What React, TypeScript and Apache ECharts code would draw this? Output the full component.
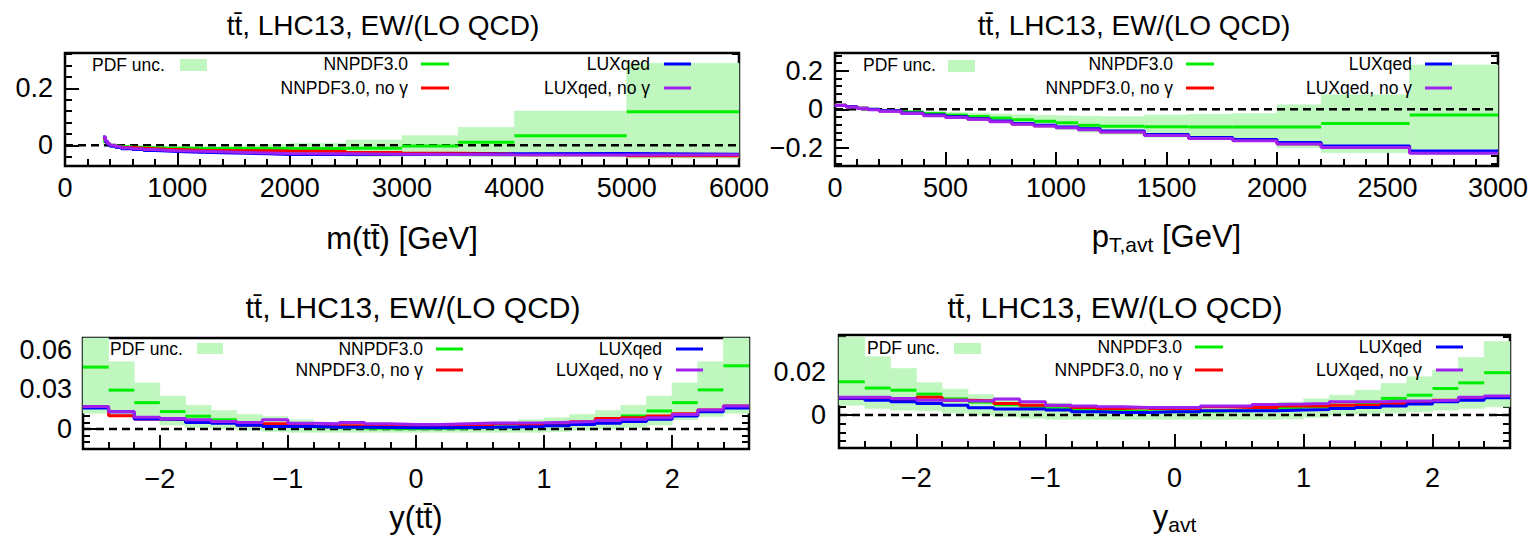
import React, { useEffect, useRef } from "react";
import * as echarts from "echarts";

const FONT = '"Liberation Sans", Arial, Helvetica, sans-serif';
const BAND = "#bff7bf";
const GREEN = "#00ee00";
const RED = "#ff0000";
const BLUE = "#0000ff";
const PURPLE = "#a020f0";

// ---------- m(tt) ----------
const mEdges = [340, 360, 380, 400, 450, 500, 600, 700, 800, 900, 1000, 1200, 1400, 1600, 1800, 2000, 2500, 3000, 3500, 4000, 5000, 6000];
const mGreen = [0.015, 0.008, 0.003, 0.0, -0.003, -0.005, -0.007, -0.008, -0.009, -0.01, -0.01, -0.011, -0.011, -0.011, -0.011, -0.011, -0.01, -0.002, 0.0105, 0.034, 0.118];
const mRed = [0.025, 0.012, 0.004, -0.001, -0.005, -0.008, -0.01, -0.012, -0.014, -0.015, -0.017, -0.018, -0.019, -0.019, -0.02, -0.022, -0.025, -0.028, -0.03, -0.033, -0.037];
const mBlue = [0.028, 0.012, 0.003, -0.003, -0.008, -0.012, -0.015, -0.018, -0.02, -0.022, -0.024, -0.026, -0.028, -0.03, -0.032, -0.032, -0.032, -0.031, -0.03, -0.029, -0.031];
const mPurple = [0.03, 0.015, 0.006, 0.0, -0.005, -0.009, -0.012, -0.015, -0.017, -0.019, -0.021, -0.023, -0.025, -0.027, -0.029, -0.03, -0.031, -0.032, -0.033, -0.034, -0.033];
const mUpper = [0.035, 0.02, 0.01, 0.005, 0.002, 0.0, -0.002, -0.003, -0.004, -0.005, -0.005, -0.005, -0.003, 0.0, 0.003, 0.007, 0.019, 0.034, 0.063, 0.12, 0.288];
const mLower = [0.0, -0.004, -0.004, -0.005, -0.008, -0.01, -0.012, -0.013, -0.014, -0.015, -0.016, -0.017, -0.019, -0.022, -0.025, -0.029, -0.039, -0.038, -0.04, -0.04, -0.045];

// ---------- pT,avt ----------
const pEdges = [0, 50, 100, 150, 200, 300, 400, 500, 600, 700, 800, 900, 1000, 1100, 1200, 1400, 1600, 1800, 2000, 2200, 2600, 3000];
const pGreen = [0.02, 0.012, 0.005, 0.0, -0.006, -0.014, -0.022, -0.03, -0.037, -0.045, -0.054, -0.062, -0.07, -0.083, -0.088, -0.091, -0.092, -0.092, -0.092, -0.074, -0.03];
const pRed = [0.021, 0.013, 0.005, -0.001, -0.009, -0.02, -0.031, -0.04, -0.05, -0.063, -0.076, -0.085, -0.094, -0.104, -0.116, -0.134, -0.15, -0.161, -0.178, -0.196, -0.224];
const pBlue = [0.021, 0.013, 0.006, 0.0, -0.007, -0.019, -0.03, -0.039, -0.049, -0.061, -0.074, -0.083, -0.092, -0.101, -0.112, -0.13, -0.146, -0.157, -0.172, -0.19, -0.216];
const pPurple = [0.02, 0.012, 0.004, -0.002, -0.01, -0.022, -0.033, -0.042, -0.052, -0.065, -0.078, -0.087, -0.096, -0.106, -0.118, -0.136, -0.152, -0.163, -0.18, -0.198, -0.228];
const pUpper = [0.025, 0.016, 0.008, 0.004, -0.001, -0.006, -0.011, -0.016, -0.02, -0.024, -0.028, -0.031, -0.034, -0.036, -0.038, -0.03, -0.026, -0.022, 0.023, 0.076, 0.23];
const pLower = [0.015, 0.008, 0.002, -0.004, -0.011, -0.022, -0.033, -0.044, -0.054, -0.066, -0.08, -0.093, -0.106, -0.118, -0.13, -0.145, -0.155, -0.16, -0.2, -0.225, -0.235];

// ---------- rapidity bins ----------
const yEdges = [-2.6, -2.4, -2.2, -2.0, -1.8, -1.6, -1.4, -1.2, -1.0, -0.8, -0.6, -0.4, -0.2, 0.0, 0.2, 0.4, 0.6, 0.8, 1.0, 1.2, 1.4, 1.6, 1.8, 2.0, 2.2, 2.4, 2.6];

// y(tt)
const ytGreen = [0.047, 0.0295, 0.02, 0.0132, 0.0097, 0.007, 0.0045, 0.003, 0.002, 0.0015, 0.001, 0.0005, 0.0003, 0.0003, 0.0005, 0.001, 0.0015, 0.002, 0.003, 0.0045, 0.0075, 0.0099, 0.0137, 0.02, 0.0297, 0.048];
const ytRed = [0.0165, 0.01, 0.0076, 0.0074, 0.0056, 0.0056, 0.003, 0.004, 0.0035, 0.0018, 0.0025, 0.0025, 0.002, 0.002, 0.0025, 0.0025, 0.004, 0.0032, 0.0035, 0.0055, 0.0079, 0.0085, 0.0099, 0.0115, 0.0145, 0.0175];
const ytBlue = [0.016, 0.013, 0.0076, 0.0074, 0.005, 0.0043, 0.0028, 0.0018, 0.0018, 0.0013, 0.0013, 0.0012, 0.001, 0.001, 0.0012, 0.0013, 0.0015, 0.0018, 0.0025, 0.0035, 0.0043, 0.0056, 0.0074, 0.0099, 0.013, 0.016];
const ytPurple = [0.017, 0.013, 0.009, 0.008, 0.007, 0.0056, 0.005, 0.007, 0.0043, 0.004, 0.005, 0.004, 0.0035, 0.0035, 0.004, 0.0045, 0.0045, 0.0048, 0.0052, 0.0056, 0.0064, 0.0074, 0.0086, 0.011, 0.0145, 0.0175];
const ytUpper = [0.075, 0.051, 0.035, 0.025, 0.018, 0.014, 0.011, 0.0094, 0.007, 0.005, 0.004, 0.0035, 0.003, 0.003, 0.0035, 0.004, 0.005, 0.007, 0.0085, 0.011, 0.014, 0.018, 0.025, 0.035, 0.051, 0.075];
const ytLower = [0.012, 0.0094, 0.007, 0.003, 0.001, 0.0, -0.001, -0.002, -0.0025, -0.0025, -0.0025, -0.0025, -0.0025, -0.0025, -0.0025, -0.0025, -0.0025, -0.0025, -0.002, -0.001, 0.0, 0.001, 0.003, 0.007, 0.0094, 0.012];

// y_avt
const yaGreen = [0.0154, 0.0125, 0.0115, 0.0097, 0.0075, 0.006, 0.0048, 0.0038, 0.003, 0.0025, 0.002, 0.0018, 0.0015, 0.0015, 0.0018, 0.002, 0.0025, 0.003, 0.0038, 0.0046, 0.0054, 0.0077, 0.0092, 0.0123, 0.0149, 0.0196];
const yaRed = [0.0077, 0.0074, 0.0069, 0.0082, 0.0069, 0.0066, 0.0054, 0.0046, 0.0043, 0.0035, 0.0031, 0.0034, 0.003, 0.003, 0.0038, 0.0035, 0.0035, 0.0042, 0.0042, 0.0046, 0.0046, 0.0054, 0.0062, 0.0069, 0.0077, 0.0085];
const yaBlue = [0.0078, 0.0069, 0.0062, 0.0054, 0.0046, 0.0034, 0.0028, 0.0028, 0.0023, 0.0015, 0.0012, 0.0012, 0.0015, 0.0015, 0.002, 0.002, 0.002, 0.0023, 0.0026, 0.0031, 0.0035, 0.0042, 0.0051, 0.0062, 0.0069, 0.008];
const yaPurple = [0.0082, 0.0082, 0.0077, 0.0069, 0.0069, 0.0065, 0.0074, 0.0062, 0.0046, 0.0042, 0.0038, 0.0035, 0.0035, 0.0035, 0.0042, 0.0042, 0.0049, 0.0051, 0.0054, 0.0062, 0.0062, 0.0065, 0.0066, 0.0069, 0.0082, 0.0088];
const yaUpper = [0.036, 0.027, 0.0215, 0.015, 0.012, 0.0095, 0.0078, 0.0065, 0.0055, 0.0045, 0.004, 0.0035, 0.0035, 0.0035, 0.0035, 0.004, 0.0045, 0.006, 0.0075, 0.0092, 0.0115, 0.0146, 0.0177, 0.0208, 0.0266, 0.034];
const yaLower = [0.0046, 0.003, 0.0023, 0.002, 0.001, 0.0, -0.0008, -0.0015, -0.002, -0.002, -0.002, -0.002, -0.002, -0.002, -0.002, -0.002, -0.002, -0.0018, -0.001, 0.0, 0.0005, 0.001, 0.0015, 0.0023, 0.003, 0.0038];

// tick labels
const mTicks = [0, 1000, 2000, 3000, 4000, 5000, 6000];
const pTicks = [0, 500, 1000, 1500, 2000, 2500, 3000];
const yTicksX = [-2, -1, 0, 1, 2];
const mYTicks = [0, 0.2];
const pYTicks = [-0.2, 0, 0.2];
const ytYTicks = [0, 0.03, 0.06];
const yaYTicks = [0, 0.02];

const TITLE = "tt\u0304, LHC13, EW/(LO QCD)";

function minorTicks(min: number, max: number, step: number, major: number[]) {
  const out: number[] = [];
  const n = Math.round((max - min) / step);
  for (let i = 0; i <= n; i++) {
    const v = +(min + i * step).toFixed(6);
    if (!major.some((m) => Math.abs(m - v) < step * 1e-3)) out.push(v);
  }
  return out;
}

function fmt(v: number) {
  if (Math.abs(v) < 1e-12) return "0";
  const s = String(+Math.abs(v).toFixed(6));
  return v < 0 ? "\u2212" + s : s;
}

const panels = [
  {
    grid: { left: 65, top: 53, width: 674, height: 113 },
    xMin: 0, xMax: 6000, xMajor: mTicks, xMinor: minorTicks(0, 6000, 200, mTicks),
    yMin: -0.0726, yMax: 0.324, yMajor: mYTicks, yMinor: minorTicks(-0.04, 0.32, 0.04, mYTicks),
    name: "m(tt\u0304) [GeV]", nameGap: 57, labelMargin: 8, yLabelMargin: 12,
    edges: mEdges, green: mGreen, red: mRed, blue: mBlue, purple: mPurple, upper: mUpper, lower: mLower,
    title: { x: 383, y: 25, size: 28 },
    legend: { pdfX: 92, pdfY: 65, rect: [180, 59, 27, 12], c1: 408, l1: [421, 449], c2: 650, l2: [664, 691], r1: 64, r2: 88 },
  },
  {
    grid: { left: 835, top: 53, width: 663, height: 113 },
    xMin: 0, xMax: 3000, xMajor: pTicks, xMinor: minorTicks(0, 3000, 100, pTicks),
    yMin: -0.294, yMax: 0.292, yMajor: pYTicks, yMinor: minorTicks(-0.28, 0.28, 0.04, pYTicks),
    name: "p{sub|T,avt} [GeV]", nameGap: 52, labelMargin: 8, yLabelMargin: 12,
    edges: pEdges, green: pGreen, red: pRed, blue: pBlue, purple: pPurple, upper: pUpper, lower: pLower,
    title: { x: 1134, y: 25, size: 28 },
    legend: { pdfX: 863, pdfY: 65, rect: [948, 60, 27, 12], c1: 1173, l1: [1186, 1214], c2: 1412, l2: [1425, 1452], r1: 64, r2: 88 },
  },
  {
    grid: { left: 83, top: 338, width: 666, height: 111 },
    xMin: -2.6, xMax: 2.6, xMajor: yTicksX, xMinor: minorTicks(-2.6, 2.6, 0.2, yTicksX),
    yMin: -0.0152, yMax: 0.0691, yMajor: ytYTicks, yMinor: minorTicks(-0.015, 0.065, 0.005, ytYTicks),
    name: "y(tt\u0304)", nameGap: 53, labelMargin: 16, yLabelMargin: 11,
    edges: yEdges, green: ytGreen, red: ytRed, blue: ytBlue, purple: ytPurple, upper: ytUpper, lower: ytLower,
    title: { x: 413, y: 307, size: 30 },
    legend: { pdfX: 110, pdfY: 349, rect: [197, 343, 26, 11], c1: 423, l1: [436, 463], c2: 662, l2: [676, 703], r1: 349, r2: 370 },
  },
  {
    grid: { left: 839, top: 335, width: 671, height: 113 },
    xMin: -2.6, xMax: 2.6, xMajor: yTicksX, xMinor: minorTicks(-2.6, 2.6, 0.2, yTicksX),
    yMin: -0.0152, yMax: 0.037, yMajor: yaYTicks, yMinor: minorTicks(-0.012, 0.036, 0.004, yaYTicks),
    name: "y{sub|avt}", nameGap: 50, labelMargin: 16, yLabelMargin: 13,
    edges: yEdges, green: yaGreen, red: yaRed, blue: yaBlue, purple: yaPurple, upper: yaUpper, lower: yaLower,
    title: { x: 1115, y: 307, size: 30 },
    legend: { pdfX: 867, pdfY: 348, rect: [954, 343, 27, 11], c1: 1182, l1: [1195, 1223], c2: 1422, l2: [1436, 1463], r1: 347, r2: 370 },
  },
];

function stepData(edges: number[], vals: number[]) {
  const d = vals.map((v, i) => [edges[i], v]);
  d.push([edges[edges.length - 1], vals[vals.length - 1]]);
  return d;
}

function buildOption() {
  const grid: any[] = [];
  const xAxis: any[] = [];
  const yAxis: any[] = [];
  const series: any[] = [];
  const graphic: any[] = [];
  const tickLine = { color: "#000", width: 2 };

  panels.forEach((p, i) => {
    grid.push({
      ...p.grid,
      show: true,
      borderColor: "#000",
      borderWidth: 2.5,
      backgroundColor: "transparent",
      containLabel: false,
      outerBoundsMode: "none",
    });
    const xi = xAxis.length;
    xAxis.push({
      gridIndex: i, type: "value", min: p.xMin, max: p.xMax, position: "bottom",
      axisLine: { show: false, onZero: false },
      splitLine: { show: false },
      axisTick: { show: true, inside: true, length: 14, customValues: p.xMajor, lineStyle: tickLine },
      axisLabel: { show: true, customValues: p.xMajor, formatter: fmt, fontSize: 27, color: "#000", fontFamily: FONT, margin: p.labelMargin },
      name: p.name, nameLocation: "middle", nameGap: p.nameGap,
      nameTextStyle: {
        fontSize: 31, color: "#000", fontFamily: FONT,
        rich: { sub: { fontSize: 21, fontFamily: FONT, color: "#000", padding: [16, 0, 0, 0] } },
      },
    });
    xAxis.push({
      gridIndex: i, type: "value", min: p.xMin, max: p.xMax, position: "bottom",
      axisLine: { show: false, onZero: false }, splitLine: { show: false },
      axisTick: { show: true, inside: true, length: 7, customValues: p.xMinor, lineStyle: tickLine },
      axisLabel: { show: false },
    });
    const yi = yAxis.length;
    const yBase = { gridIndex: i, type: "value", min: p.yMin, max: p.yMax, axisLine: { show: false, onZero: false }, splitLine: { show: false } };
    yAxis.push({
      ...yBase, position: "left",
      axisTick: { show: true, inside: true, length: 14, customValues: p.yMajor, lineStyle: tickLine },
      axisLabel: { show: true, customValues: p.yMajor, formatter: fmt, fontSize: 27, color: "#000", fontFamily: FONT, margin: p.yLabelMargin },
    });
    yAxis.push({
      ...yBase, position: "left",
      axisTick: { show: true, inside: true, length: 7, customValues: p.yMinor, lineStyle: tickLine },
      axisLabel: { show: false },
    });
    yAxis.push({
      ...yBase, position: "right",
      axisTick: { show: true, inside: true, length: 14, customValues: p.yMajor, lineStyle: tickLine },
      axisLabel: { show: false },
    });
    yAxis.push({
      ...yBase, position: "right",
      axisTick: { show: true, inside: true, length: 7, customValues: p.yMinor, lineStyle: tickLine },
      axisLabel: { show: false },
    });

    const bandData = p.lower.map((lo, k) => [p.edges[k], p.edges[k + 1], lo, p.upper[k]]);
    series.push({
      type: "custom", xAxisIndex: xi, yAxisIndex: yi, silent: true, z: 1,
      data: bandData,
      encode: { x: [0, 1], y: [2, 3] },
      renderItem: (params: any, api: any) => {
        const a = api.coord([api.value(0), api.value(3)]);
        const b = api.coord([api.value(1), api.value(2)]);
        const cs = params.coordSys;
        const shape = echarts.graphic.clipRectByRect(
          { x: a[0], y: a[1], width: b[0] - a[0], height: b[1] - a[1] },
          { x: cs.x, y: cs.y, width: cs.width, height: cs.height }
        );
        if (!shape) return null;
        return { type: "rect", shape, style: { fill: BAND, stroke: BAND, lineWidth: 0.6 } };
      },
    });
    series.push({
      type: "line", xAxisIndex: xi, yAxisIndex: yi, silent: true, z: 2,
      data: [[p.xMin, 0], [p.xMax, 0]], symbol: "none",
      lineStyle: { color: "#000", width: 2.5, type: [8, 5] },
    });
    // NNPDF3.0: separate horizontal bars per bin
    const greenData = p.green.map((v, k) => [p.edges[k], p.edges[k + 1], v]);
    series.push({
      type: "custom", xAxisIndex: xi, yAxisIndex: yi, silent: true, z: 3,
      data: greenData,
      encode: { x: [0, 1], y: 2 },
      renderItem: (params: any, api: any) => {
        const a = api.coord([api.value(0), api.value(2)]);
        const b = api.coord([api.value(1), api.value(2)]);
        return { type: "line", shape: { x1: a[0], y1: a[1], x2: b[0], y2: b[1] }, style: { stroke: GREEN, lineWidth: 3 } };
      },
    });
    const lines: [number[], string][] = [[p.red, RED], [p.blue, BLUE], [p.purple, PURPLE]];
    lines.forEach(([vals, color], k) => {
      series.push({
        type: "line", xAxisIndex: xi, yAxisIndex: yi, silent: true, z: 4 + k,
        step: "end", symbol: "none", clip: true,
        data: stepData(p.edges, vals),
        lineStyle: { color, width: 3 },
      });
    });

    // title
    graphic.push({
      type: "text", x: p.title.x, y: p.title.y,
      style: { text: TITLE, fontSize: p.title.size, fontFamily: FONT, fill: "#000", textAlign: "center", textVerticalAlign: "middle", align: "center", verticalAlign: "middle" },
    });
    // legend
    const L = p.legend;
    const ls = (text: string, x: number, y: number, align: string) => ({
      type: "text", x, y, z: 100,
      style: { text, fontSize: 17.5, fontFamily: FONT, fill: "#000", textAlign: align, textVerticalAlign: "middle", align, verticalAlign: "middle" },
    });
    graphic.push(ls("PDF unc.", L.pdfX, L.pdfY, "left"));
    graphic.push({ type: "rect", z: 100, shape: { x: L.rect[0], y: L.rect[1], width: L.rect[2], height: L.rect[3] }, style: { fill: BAND } });
    graphic.push(ls("NNPDF3.0", L.c1, L.r1, "right"));
    graphic.push(ls("NNPDF3.0, no \u03b3", L.c1, L.r2, "right"));
    graphic.push(ls("LUXqed", L.c2, L.r1, "right"));
    graphic.push(ls("LUXqed, no \u03b3", L.c2, L.r2, "right"));
    const seg = (x: number[], y: number, c: string) => ({ type: "line", z: 100, shape: { x1: x[0], y1: y, x2: x[1], y2: y }, style: { stroke: c, lineWidth: 3 } });
    graphic.push(seg(L.l1, L.r1, GREEN));
    graphic.push(seg(L.l1, L.r2, RED));
    graphic.push(seg(L.l2, L.r1, BLUE));
    graphic.push(seg(L.l2, L.r2, PURPLE));
  });

  return { animation: false, backgroundColor: "#fff", grid, xAxis, yAxis, series, graphic };
}

export default function App() {
  const ref = useRef<HTMLDivElement>(null);
  useEffect(() => {
    if (!ref.current) return;
    const chart = echarts.init(ref.current, undefined, { renderer: "svg" });
    chart.setOption(buildOption() as any);
    return () => chart.dispose();
  }, []);
  return <div ref={ref} style={{ position: "fixed", left: 0, top: 0, width: 1535, height: 538, background: "#fff" }} />;
}
